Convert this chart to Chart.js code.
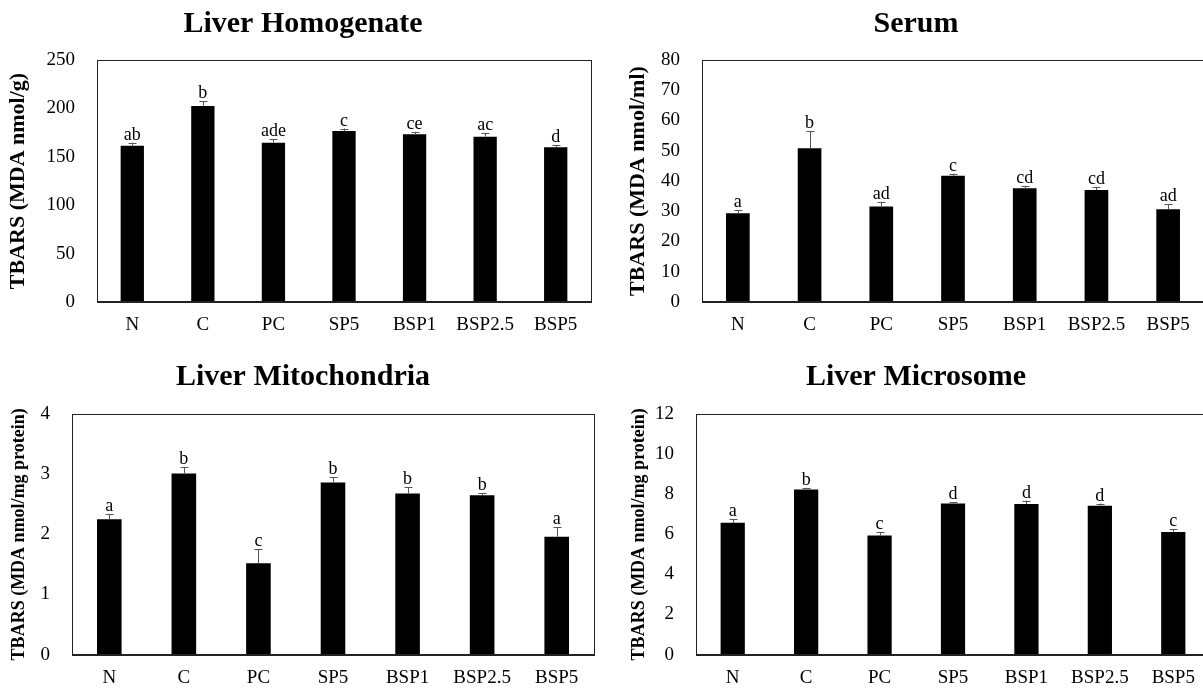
<!DOCTYPE html>
<html>
<head>
<meta charset="utf-8">
<script src="https://cdn.jsdelivr.net/npm/chart.js@4.4.1/dist/chart.umd.min.js"></script>
<style>
  html, body { margin: 0; padding: 0; background: #fff; overflow: hidden; width: 1203px; height: 688px; }
  canvas { position: absolute; }
</style>
</head>
<body>
<canvas id="homogenate" style="left:0px;top:0px"></canvas>
<canvas id="serum" style="left:600px;top:0px"></canvas>
<canvas id="mito" style="left:0px;top:340px"></canvas>
<canvas id="micro" style="left:600px;top:340px"></canvas>
<script>
// groups on the x axis
const groups = ['N', 'C', 'PC', 'SP5', 'BSP1', 'BSP2.5', 'BSP5'];

// Liver homogenate (MDA nmol/g)
const homogenate = [161.5, 202.5, 164.6, 176.7, 173.2, 170.8, 159.8];
const homogenateErr = [3, 5, 3.5, 2.5, 2.7, 3.5, 2];
const homogenateLetters = ['ab', 'b', 'ade', 'c', 'ce', 'ac', 'd'];

// Serum (MDA nmol/ml)
const serum = [29.3, 50.8, 31.6, 41.7, 37.6, 37.0, 30.7];
const serumErr = [1.0, 5.7, 1.5, 0.7, 0.8, 1.1, 1.7];
const serumLetters = ['a', 'b', 'ad', 'c', 'cd', 'cd', 'ad'];

// Liver mitochondria (MDA nmol/mg protein)
const mito = [2.25, 3.01, 1.52, 2.86, 2.68, 2.65, 1.96];
const mitoErr = [0.08, 0.11, 0.23, 0.09, 0.10, 0.03, 0.16];
const mitoLetters = ['a', 'b', 'c', 'b', 'b', 'b', 'a'];

// Liver microsome (MDA nmol/mg protein)
const micro = [6.57, 8.24, 5.94, 7.53, 7.51, 7.42, 6.12];
const microErr = [0.20, 0.08, 0.17, 0.07, 0.17, 0.11, 0.15];
const microLetters = ['a', 'b', 'c', 'd', 'd', 'd', 'c'];

Chart.defaults.font.family = "'Liberation Serif', 'Times New Roman', serif";
Chart.defaults.color = '#000';

// box around plot area, error bars and letters above the bars
const extras = {
  id: 'extras',
  afterDatasetsDraw(chart, args, opts) {
    const ctx = chart.ctx;
    const y = chart.scales.y;
    const meta = chart.getDatasetMeta(0);
    const vals = chart.data.datasets[0].data;
    ctx.save();
    ctx.strokeStyle = '#555';
    ctx.lineWidth = 1;
    meta.data.forEach((bar, i) => {
      const top = y.getPixelForValue(vals[i] + opts.err[i]);
      const x = Math.round(bar.x) + 0.5;
      ctx.beginPath();
      ctx.moveTo(x, bar.y);
      ctx.lineTo(x, top);
      ctx.moveTo(x - 4, Math.round(top) + 0.5);
      ctx.lineTo(x + 4, Math.round(top) + 0.5);
      ctx.stroke();
      ctx.fillStyle = '#000';
      ctx.font = "18px 'Liberation Serif'";
      ctx.textAlign = 'center';
      ctx.textBaseline = 'alphabetic';
      ctx.fillText(opts.letters[i], bar.x, top - 3);
    });
    const a = chart.chartArea;
    ctx.strokeStyle = '#222';
    ctx.lineWidth = 1;
    ctx.strokeRect(Math.round(a.left) + 0.5, Math.round(a.top) + 0.5,
      Math.round(a.right - a.left), Math.round(a.bottom - a.top));
    ctx.lineWidth = 2;
    ctx.beginPath();
    ctx.moveTo(a.left, Math.round(a.bottom));
    ctx.lineTo(a.right, Math.round(a.bottom));
    ctx.stroke();
    ctx.restore();
  }
};

function makeChart(id, cfg) {
  const el = document.getElementById(id);
  el.width = cfg.w;
  el.height = cfg.h;
  return new Chart(el, {
    type: 'bar',
    data: {
      labels: groups,
      datasets: [{
        data: cfg.values,
        backgroundColor: '#000',
        borderWidth: 0,
        categoryPercentage: 1,
        barPercentage: 0.33
      }]
    },
    options: {
      responsive: false,
      animation: false,
      devicePixelRatio: 1,
      layout: { padding: 0 },
      plugins: {
        legend: { display: false },
        tooltip: { enabled: false },
        title: {
          display: true,
          text: cfg.title,
          font: { size: 30, weight: 'bold' },
          color: '#000',
          padding: { top: cfg.titleTop, bottom: cfg.titleBottom }
        },
        extras: { err: cfg.err, letters: cfg.letters }
      },
      scales: {
        x: {
          grid: { display: false, drawTicks: false },
          border: { display: false },
          ticks: { font: { size: 19 }, padding: 12, color: '#000' },
          afterFit(s) { s.height = cfg.xHeight; }
        },
        y: {
          min: 0,
          max: cfg.max,
          grid: { display: false, drawTicks: false },
          border: { display: false },
          ticks: { stepSize: cfg.step, font: { size: 19 }, padding: 22, color: '#000' },
          title: {
            display: true,
            text: cfg.yTitle,
            font: { size: cfg.yTitleSize, weight: 'bold' },
            color: '#000',
            padding: { top: cfg.yTitlePad, bottom: 0 }
          },
          afterFit(s) { s.width = cfg.left; }
        },
        y2: {
          position: 'right',
          display: true,
          grid: { display: false, drawTicks: false },
          border: { display: false },
          ticks: { display: false },
          afterFit(s) { s.width = cfg.right; }
        }
      }
    },
    plugins: [extras]
  });
}

makeChart('homogenate', {
  w: 606, h: 340, left: 97, right: 15, xHeight: 38,
  titleTop: 6, titleBottom: 18,
  title: 'Liver Homogenate', values: homogenate, err: homogenateErr, letters: homogenateLetters,
  max: 250, step: 50, yTitle: 'TBARS (MDA nmol/g)', yTitleSize: 22, yTitlePad: 5
});

makeChart('serum', {
  w: 632, h: 340, left: 102, right: 28, xHeight: 38,
  titleTop: 6, titleBottom: 18,
  title: 'Serum', values: serum, err: serumErr, letters: serumLetters,
  max: 80, step: 10, yTitle: 'TBARS (MDA nmol/ml)', yTitleSize: 22, yTitlePad: 25
});

makeChart('mito', {
  w: 606, h: 348, left: 72, right: 12, xHeight: 32,
  titleTop: 19, titleBottom: 19,
  title: 'Liver Mitochondria', values: mito, err: mitoErr, letters: mitoLetters,
  max: 4, step: 1, yTitle: 'TBARS (MDA nmol/mg protein)', yTitleSize: 18, yTitlePad: 9
});

makeChart('micro', {
  w: 632, h: 348, left: 96, right: 22, xHeight: 32,
  titleTop: 19, titleBottom: 19,
  title: 'Liver Microsome', values: micro, err: microErr, letters: microLetters,
  max: 12, step: 2, yTitle: 'TBARS (MDA nmol/mg protein)', yTitleSize: 18, yTitlePad: 29
});
</script>
</body>
</html>
